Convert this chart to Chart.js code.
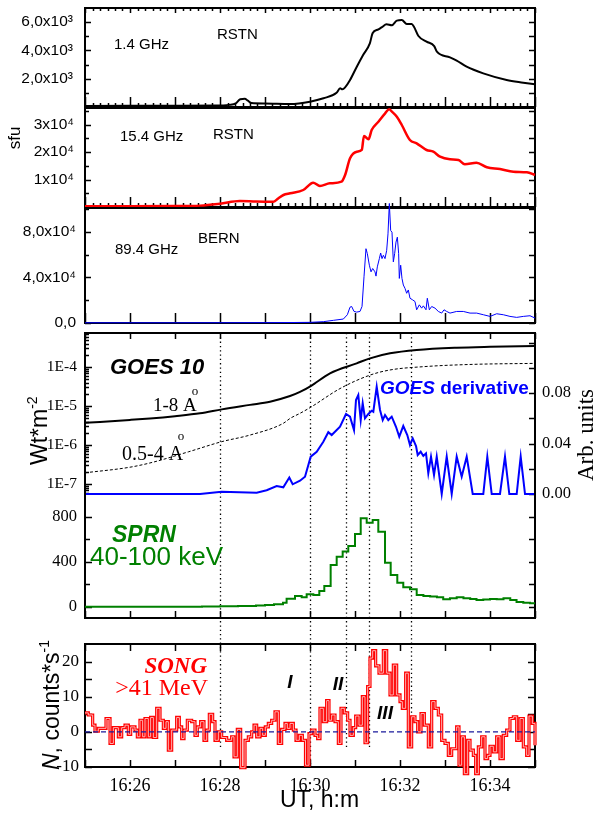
<!DOCTYPE html>
<html><head><meta charset="utf-8">
<script src="https://cdn.jsdelivr.net/npm/chart.js@4.4.1/dist/chart.umd.min.js"></script>
<style>
html,body{margin:0;padding:0;background:#fff;}
#wrap{position:relative;width:597px;height:816px;overflow:hidden;background:#fff;}
#wrap canvas{position:absolute;left:0;top:0;}
</style></head><body>
<div id="wrap">
<canvas id="cGoes" width="597" height="816"></canvas>
<canvas id="cP1" width="597" height="816"></canvas>
<canvas id="cP2" width="597" height="816"></canvas>
<canvas id="cP3" width="597" height="816"></canvas>
<canvas id="cSprn" width="597" height="816"></canvas>
<canvas id="cSong" width="597" height="816"></canvas>
</div>
<script>
// ===== DATA (time in minutes after 16:00 UT) =====
const p1Time = [25.0, 26.0, 27.0, 27.9, 28.2, 28.35, 28.45, 28.55, 28.62, 28.7, 29.0, 29.56, 30.0, 30.3, 30.59, 30.67, 30.72, 30.78, 30.89, 31.04, 31.18, 31.33, 31.39, 31.52, 31.6, 31.7, 31.82, 31.93, 32.04, 32.15, 32.26, 32.31, 32.41, 32.59, 32.76, 32.82, 33.11, 33.26, 33.48, 33.85, 34.37, 34.74, 35.0];
const p1Flux = [70, 80, 90, 100, 150, 250, 550, 580, 450, 280, 250, 212, 375, 615, 1010, 1320, 1250, 1390, 1910, 2850, 3680, 4500, 5210, 5490, 5650, 5850, 5780, 6110, 6150, 5870, 5870, 5680, 5020, 4620, 4310, 3910, 3510, 3280, 2850, 2380, 1910, 1720, 1600];

const p2Time = [25.0, 26.0, 27.0, 27.56, 28.0, 28.44, 28.8, 29.19, 29.3, 29.41, 29.56, 29.85, 30.07, 30.22, 30.44, 30.70, 30.78, 30.89, 31.04, 31.15, 31.20, 31.30, 31.37, 31.52, 31.67, 31.76, 31.82, 31.93, 32.04, 32.22, 32.37, 32.59, 32.74, 32.89, 33.11, 33.30, 33.44, 33.70, 33.93, 34.22, 34.52, 34.82, 35.0];
const p2Flux = [300, 300, 350, 500, 1200, 2180, 2000, 1930, 3200, 4360, 4980, 6180, 8840, 7640, 8620, 9200, 11640, 17710, 20110, 20730, 25820, 24620, 28000, 31020, 34070, 35530, 34650, 32840, 29820, 24360, 23160, 20730, 20110, 18290, 17350, 17090, 15530, 16110, 14440, 13820, 12840, 12620, 11640];

const p3Time = [25.0, 27.0, 29.0, 29.556, 30.0, 30.296, 30.519, 30.741, 30.83, 30.889, 30.926, 30.978, 31.037, 31.111, 31.156, 31.2, 31.244, 31.274, 31.319, 31.356, 31.393, 31.444, 31.467, 31.496, 31.541, 31.57, 31.6, 31.63, 31.667, 31.704, 31.733, 31.763, 31.793, 31.822, 31.852, 31.881, 31.911, 31.941, 31.97, 31.985, 32.015, 32.044, 32.074, 32.111, 32.148, 32.185, 32.222, 32.281, 32.333, 32.37, 32.43, 32.481, 32.519, 32.578, 32.607, 32.652, 32.704, 32.778, 32.852, 32.926, 32.978, 33.037, 33.111, 33.259, 33.407, 33.556, 33.704, 33.852, 34.0, 34.148, 34.296, 34.444, 34.593, 34.741, 34.889, 35.0];
const p3Flux = [200, 200, 300, 400, 580, 1160, 2320, 3480, 7250, 13900, 14500, 10150, 9570, 10150, 14500, 40600, 65250, 60900, 50750, 44950, 47850, 44950, 41180, 49300, 56550, 61480, 56550, 59450, 56550, 63800, 78300, 104980, 81200, 79750, 53650, 60900, 71050, 75400, 60900, 39150, 50750, 39150, 33350, 30450, 26100, 29000, 21750, 20300, 18850, 11600, 15950, 13050, 15080, 11600, 21750, 11600, 14500, 13050, 10150, 8700, 11600, 10150, 8700, 10150, 10150, 8700, 8700, 7250, 5800, 8120, 7250, 5800, 4930, 5800, 6380, 4350];

const goesLongTime = [25.0, 26.0, 26.444, 27.0, 27.556, 28.04, 28.667, 29.111, 29.556, 29.778, 30.016, 30.444, 31.037, 31.333, 31.778, 32.371, 33.26, 34.0, 35.0];
const goesLongFlux = [3.7e-6, 4.4e-6, 4.8e-6, 5.5e-6, 6.5e-6, 8.2e-6, 1.07e-5, 1.29e-5, 1.8e-5, 2.3e-5, 3.25e-5, 6.9e-5, 1.24e-4, 1.67e-4, 2.24e-4, 2.73e-4, 3.13e-4, 3.3e-4, 3.45e-4];

const goesShortTime = [25.0, 26.0, 26.5, 27.3, 28.04, 28.667, 29.407, 29.556, 29.778, 30.016, 30.667, 31.333, 31.778, 32.518, 33.63, 35.0];
const goesShortFlux = [1.94e-7, 2.7e-7, 3.6e-7, 6.7e-7, 1.22e-6, 1.8e-6, 3.6e-6, 4.8e-6, 6.5e-6, 9.3e-6, 2.8e-5, 6.2e-5, 8.4e-5, 1.02e-4, 1.17e-4, 1.24e-4];

const derivTime = [25.0, 27.556, 28.037, 28.815, 29.037, 29.259, 29.407, 29.54, 29.615, 29.778, 29.889, 30.016, 30.149, 30.296, 30.407, 30.482, 30.667, 30.8, 30.889, 30.978, 31.022, 31.073, 31.127, 31.171, 31.222, 31.296, 31.371, 31.407, 31.482, 31.556, 31.616, 31.667, 31.74, 31.816, 31.911, 31.984, 32.073, 32.162, 32.222, 32.282, 32.356, 32.393, 32.46, 32.518, 32.578, 32.629, 32.689, 32.756, 32.816, 32.927, 33.038, 33.149, 33.26, 33.371, 33.482, 33.616, 33.851, 33.94, 34.038, 34.222, 34.333, 34.429, 34.593, 34.682, 34.778, 35.0];
const derivValue = [0, 0, 0.0018, 0.001, 0.003, 0.0063, 0.0053, 0.013, 0.0077, 0.0105, 0.0137, 0.0296, 0.0335, 0.0414, 0.049, 0.0467, 0.0533, 0.0634, 0.0613, 0.0507, 0.0745, 0.0784, 0.0586, 0.0719, 0.06, 0.0634, 0.066, 0.0652, 0.085, 0.0666, 0.0586, 0.0626, 0.0586, 0.0613, 0.0533, 0.0454, 0.0539, 0.0467, 0.0388, 0.0441, 0.038, 0.0309, 0.0335, 0.0301, 0.0322, 0.0164, 0.0296, 0.015, 0.0296, 0, 0.0296, 0, 0.0296, 0.0137, 0.0296, 0, 0, 0.0296, 0, 0, 0.0296, 0, 0, 0.0296, 0, 0];

const sprnTime = [25.0, 26.0, 27.0, 27.6, 28.0, 28.4, 28.8, 29.0, 29.2, 29.4, 29.48, 29.667, 29.815, 29.926, 30.074, 30.207, 30.318, 30.459, 30.593, 30.726, 30.851, 31.0, 31.127, 31.26, 31.393, 31.518, 31.667, 31.793, 31.94, 32.073, 32.222, 32.371, 32.52, 32.67, 32.82, 32.96, 33.11, 33.26, 33.41, 33.56, 33.70, 33.85, 34.0, 34.15, 34.30, 34.45, 34.59, 34.74, 34.89, 35.0];
const sprnCounts = [2, 2, 3, 4, 6, 8, 12, 18, 25, 38, 72, 98, 86, 112, 107, 142, 187, 373, 447, 492, 542, 649, 788, 749, 773, 669, 394, 284, 216, 175, 157, 107, 98, 92, 86, 68, 77, 86, 77, 71, 62, 66, 71, 68, 77, 62, 45, 38, 33, 27];

const songTime = [25.000, 25.074, 25.170, 25.222, 25.296, 25.467, 25.556, 25.630, 25.741, 25.815, 25.889, 25.963, 26.015, 26.111, 26.163, 26.222, 26.281, 26.333, 26.407, 26.459, 26.519, 26.593, 26.667, 26.741, 26.800, 26.852, 26.926, 27.037, 27.096, 27.148, 27.200, 27.274, 27.370, 27.444, 27.496, 27.570, 27.644, 27.704, 27.763, 27.837, 27.889, 27.963, 28.037, 28.148, 28.259, 28.311, 28.385, 28.459, 28.556, 28.630, 28.704, 28.756, 28.815, 28.889, 28.948, 29.007, 29.074, 29.148, 29.222, 29.296, 29.370, 29.444, 29.496, 29.556, 29.630, 29.689, 29.763, 29.830, 29.900, 29.978, 30.037, 30.111, 30.170, 30.222, 30.296, 30.370, 30.422, 30.481, 30.556, 30.630, 30.689, 30.763, 30.837, 30.889, 30.963, 31.015, 31.089, 31.163, 31.222, 31.281, 31.333, 31.393, 31.459, 31.533, 31.630, 31.704, 31.778, 31.852, 31.926, 32.000, 32.052, 32.126, 32.185, 32.259, 32.333, 32.393, 32.467, 32.541, 32.630, 32.704, 32.778, 32.852, 32.926, 33.000, 33.074, 33.148, 33.259, 33.311, 33.370, 33.430, 33.504, 33.556, 33.630, 33.681, 33.741, 33.815, 33.889, 33.948, 34.000, 34.074, 34.148, 34.222, 34.296, 34.370, 34.444, 34.519, 34.593, 34.667, 34.741, 34.815, 34.867, 34.941, 35.000];
const songCounts = [5.4, 4.8, 1.9, 0.2, 1.0, 3.8, -3.3, 1.2, -1.4, 1.2, 1.9, -0.7, 1.4, 0.5, -1.4, 3.3, -1.4, 3.8, -1.4, 4.1, -1.6, 6.7, 3.3, 1.0, 2.9, -5.2, 0.5, 4.1, 1.4, -1.9, 0.5, 3.3, 2.9, -1.0, 1.4, 2.9, -2.4, 0.5, 5.0, 2.9, -2.4, 0, -1.6, -2.4, -1.4, -7.1, 0.7, -10.2, -2.4, -1.4, 0, 1.9, -1.4, 1.0, -1.0, 1.4, 2.4, 3.3, 5.7, -3.3, 0.7, 2.4, 1.0, 2.4, 0.5, -2.4, -1.0, -2.4, -9.5, -0.5, 0.5, -1.0, -1.9, 6.7, 2.9, 8.9, 3.3, 4.8, 2.9, -3.3, 6.7, 5.4, 3.3, -1.0, 1.2, 4.5, 1.9, 10.0, -3.1, 12.9, 21.0, 23.1, 18.8, 16.7, 23.1, 16.7, 10.5, 19.0, 10.5, 8.6, 6.7, 16.7, -4.3, 4.3, 2.9, 0, 5.2, 1.9, -4.3, 8.6, 6.7, 4.8, -2.4, -3.3, -6.7, -4.8, 1.4, -9.5, -1.4, -11.9, -2.4, -5.2, -6.7, -11.9, -4.3, -1.4, -7.6, -6.7, -4.1, -5.7, -1.4, -7.6, -1.0, 0.5, 3.8, 4.3, -2.4, 3.8, -4.3, -6.7, 4.5, 2.4, -3.8];

// vertical dotted marker lines (time) and their lower end (SONG counts)
const markerTimes = [28.0, 30.0, 30.8, 31.32, 32.24];
const markerEnds = [-4.3, -10, -4.3, -4.8, 0.5];

// ===== TICKS =====
const xTickMinutes = [26, 28, 30, 32, 34];
const xTickLabels = ['16:26', '16:28', '16:30', '16:32', '16:34'];
const p1TickValues = [2000, 4000, 6000];
const p1TickLabels = ['2,0x10\u00B3', '4,0x10\u00B3', '6,0x10\u00B3'];
const p1MinorValues = [1000, 3000, 5000];
const p2TickValues = [10000, 20000, 30000];
const p2TickLabels = ['1x10\u2074', '2x10\u2074', '3x10\u2074'];
const p2MinorValues = [5000, 15000, 25000, 35000];
const p3TickValues = [0, 40000, 80000];
const p3TickLabels = ['0,0', '4,0x10\u2074', '8,0x10\u2074'];
const p3MinorValues = [20000, 60000, 100000];
const goesTickValues = [1e-7, 1e-6, 1e-5, 1e-4];
const goesTickLabels = ['1E-7', '1E-6', '1E-5', '1E-4'];
const derivTickValues = [0, 0.04, 0.08];
const derivTickLabels = ['0.00', '0.04', '0.08'];
const derivMinorValues = [0.02, 0.06, 0.10, 0.12];
const sprnTickValues = [0, 400, 800];
const sprnTickLabels = ['0', '400', '800'];
const sprnMinorValues = [200, 600];
const songTickValues = [-10, 0, 10, 20];
const songTickLabels = ['-10', '0', '10', '20'];
const songMinorValues = [-5, 5, 15];

// ===== LAYOUT / STYLE =====
const SANS = "'Liberation Sans', Arial, Helvetica, sans-serif";
const SERIF = "'Liberation Serif', 'Times New Roman', Times, serif";
const PAGE_H = 816, AXIS_L = 85, AXIS_R = 62;
const T_MIN = 25, T_MAX = 35;
const BOX = { p1: [8, 107], p2: [108, 207], p3: [208, 323], goes: [333, 494], sprn: [494, 618], song: [644, 767] };
const RED = '#ff0000', BLUE = '#0000ff', GREEN = 'rgb(0,128,0)';

const pts = (xs, ys) => xs.map((x, i) => ({ x, y: ys[i] }));

function hiddenX() {
  return { type: 'linear', min: T_MIN, max: T_MAX, bounds: 'data', display: false };
}
function yAxis(pos, type, min, max, values, labels, font, pad) {
  return {
    type, position: pos, min, max, bounds: 'data',
    grid: { display: false, drawTicks: false, tickLength: 0 },
    border: { display: false },
    afterFit: s => { s.width = pos === 'left' ? AXIS_L : AXIS_R; s.paddingTop = 0; s.paddingBottom = 0; },
    afterBuildTicks: s => { s.ticks = values.map(v => ({ value: v })); },
    ticks: { autoSkip: false, padding: pad, font, color: '#000', callback: (v, i) => labels[i] }
  };
}

function framePlugin(spec) {
  return {
    id: 'frame',
    beforeDatasetsDraw(chart) {
      const { ctx, chartArea: a, scales } = chart;
      ctx.save();
      ctx.strokeStyle = '#000';
      ctx.lineWidth = 2;
      ctx.lineCap = 'square';
      ctx.beginPath();
      const s = spec.sides;
      if (s.includes('left')) { ctx.moveTo(a.left, a.top); ctx.lineTo(a.left, a.bottom); }
      if (s.includes('right')) { ctx.moveTo(a.right, a.top); ctx.lineTo(a.right, a.bottom); }
      if (s.includes('top')) { ctx.moveTo(a.left, a.top); ctx.lineTo(a.right, a.top); }
      if (s.includes('bottom')) { ctx.moveTo(a.left, a.bottom); ctx.lineTo(a.right, a.bottom); }
      ctx.stroke();
      ctx.lineWidth = 1.5;
      ctx.lineCap = 'butt';
      ctx.beginPath();
      const xs = scales.x;
      (spec.xTicks || []).forEach(t => {
        const n = Math.round((xs.max - xs.min) / t.step);
        for (let i = 0; i <= n; i++) {
          const px = Math.round(xs.getPixelForValue(xs.min + i * t.step)) + 0.5;
          const y0 = t.edge === 'top' ? a.top : a.bottom;
          const d = t.edge === 'top' ? t.len : -t.len;
          ctx.moveTo(px, y0); ctx.lineTo(px, y0 + d);
        }
      });
      (spec.yTicks || []).forEach(t => {
        const sc = scales[t.scale];
        t.values.forEach(v => {
          const py = Math.round(sc.getPixelForValue(v)) + 0.5;
          const x0 = t.side === 'left' ? a.left : a.right;
          const d = t.side === 'left' ? t.len : -t.len;
          ctx.moveTo(x0, py); ctx.lineTo(x0 + d, py);
        });
      });
      ctx.stroke();
      ctx.restore();
    }
  };
}

function drawRich(ctx, it) {
  ctx.save();
  ctx.translate(it.x, it.y);
  if (it.rotate) ctx.rotate(it.rotate);
  ctx.fillStyle = it.color || '#000';
  ctx.textBaseline = 'alphabetic';
  ctx.textAlign = 'left';
  let total = 0;
  const widths = it.parts.map(p => { ctx.font = p.font; const w = ctx.measureText(p.t).width; total += w; return w; });
  let cx = it.align === 'center' ? -total / 2 : it.align === 'right' ? -total : 0;
  it.parts.forEach((p, i) => { ctx.font = p.font; ctx.fillText(p.t, cx, -(p.rise || 0)); cx += widths[i]; });
  ctx.restore();
}
function textPlugin(items) {
  return { id: 'texts', afterDraw(chart) { items.forEach(it => drawRich(chart.ctx, it)); } };
}

function makePanel(id, box, datasets, scales, plugins, xAxisH) {
  const hasRight = !!scales.y2;
  return new Chart(document.getElementById(id), {
    type: 'line',
    data: { datasets },
    options: {
      responsive: false, animation: false, events: [], devicePixelRatio: 1,
      layout: { autoPadding: false, padding: { left: 0, top: box[0], right: hasRight ? 0 : AXIS_R, bottom: PAGE_H - box[1] - (xAxisH || 0) } },
      plugins: { legend: { display: false }, tooltip: { enabled: false } },
      elements: { point: { radius: 0 } },
      scales
    },
    plugins
  });
}

const radioFont = { family: SANS, size: 15.5 };
const minorX = [{ edge: 'top', step: 1 / 6, len: 3 }, { edge: 'top', step: 1, len: 5 }, { edge: 'bottom', step: 1 / 6, len: 4 }, { edge: 'bottom', step: 1, len: 10 }];

// ---- Panel 1: 1.4 GHz
makePanel('cP1', BOX.p1,
  [{ data: pts(p1Time, p1Flux), borderColor: '#000', borderWidth: 2, cubicInterpolationMode: 'monotone', pointRadius: 0 }],
  { x: hiddenX(), y: yAxis('left', 'linear', 0, 7000, p1TickValues, p1TickLabels, radioFont, 12) },
  [framePlugin({ sides: ['left', 'right', 'top', 'bottom'], xTicks: minorX,
    yTicks: [{ scale: 'y', side: 'left', values: p1TickValues, len: 6 }, { scale: 'y', side: 'left', values: p1MinorValues, len: 4 },
             { scale: 'y', side: 'right', values: p1TickValues, len: 6 }, { scale: 'y', side: 'right', values: p1MinorValues, len: 6 }] }),
   textPlugin([
     { x: 114, y: 48.5, parts: [{ t: '1.4 GHz', font: `15px ${SANS}` }] },
     { x: 217, y: 38.5, parts: [{ t: 'RSTN', font: `15px ${SANS}` }] }
   ])]);

// ---- Panel 2: 15.4 GHz
makePanel('cP2', BOX.p2,
  [{ data: pts(p2Time, p2Flux), borderColor: RED, borderWidth: 2.5, cubicInterpolationMode: 'monotone', pointRadius: 0, clip: false }],
  { x: hiddenX(), y: yAxis('left', 'linear', 0, 36000, p2TickValues, p2TickLabels, radioFont, 11) },
  [framePlugin({ sides: ['left', 'right', 'top', 'bottom'], xTicks: [{ edge: 'bottom', step: 1 / 6, len: 4 }, { edge: 'bottom', step: 1, len: 10 }],
    yTicks: [{ scale: 'y', side: 'left', values: p2TickValues, len: 6 }, { scale: 'y', side: 'left', values: p2MinorValues, len: 4 },
             { scale: 'y', side: 'right', values: p2TickValues, len: 6 }, { scale: 'y', side: 'right', values: p2MinorValues, len: 6 }] }),
   textPlugin([
     { x: 120, y: 140.5, parts: [{ t: '15.4 GHz', font: `15px ${SANS}` }] },
     { x: 213, y: 138.5, parts: [{ t: 'RSTN', font: `15px ${SANS}` }] },
     { x: 20, y: 138, rotate: -Math.PI / 2, align: 'center', parts: [{ t: 'sfu', font: `17px ${SANS}` }] }
   ])]);

// ---- Panel 3: 89.4 GHz
makePanel('cP3', BOX.p3,
  [{ data: pts(p3Time, p3Flux), borderColor: BLUE, borderWidth: 1, pointRadius: 0, clip: false }],
  { x: hiddenX(), y: yAxis('left', 'linear', 0, 101000, p3TickValues, p3TickLabels, radioFont, 9) },
  [framePlugin({ sides: ['left', 'right', 'top', 'bottom'], xTicks: [{ edge: 'bottom', step: 1, len: 10 }],
    yTicks: [{ scale: 'y', side: 'left', values: p3TickValues, len: 6 }, { scale: 'y', side: 'left', values: p3MinorValues, len: 4 },
             { scale: 'y', side: 'right', values: p3TickValues, len: 6 }, { scale: 'y', side: 'right', values: p3MinorValues, len: 6 }] }),
   textPlugin([
     { x: 115, y: 253.5, parts: [{ t: '89.4 GHz', font: `15px ${SANS}` }] },
     { x: 198, y: 242.5, parts: [{ t: 'BERN', font: `15px ${SANS}` }] }
   ])]);

// ---- SPRN
makePanel('cSprn', BOX.sprn,
  [{ data: pts(sprnTime, sprnCounts), borderColor: GREEN, borderWidth: 2, stepped: true, pointRadius: 0 }],
  { x: hiddenX(), y: yAxis('left', 'linear', -98, 1004, sprnTickValues, sprnTickLabels, { family: SERIF, size: 16.5 }, 8) },
  [framePlugin({ sides: ['left', 'right', 'bottom'], xTicks: [{ edge: 'bottom', step: 1, len: 7 }],
    yTicks: [{ scale: 'y', side: 'left', values: sprnTickValues, len: 7 }, { scale: 'y', side: 'left', values: sprnMinorValues, len: 5 },
             { scale: 'y', side: 'right', values: sprnTickValues, len: 6 }, { scale: 'y', side: 'right', values: sprnMinorValues, len: 6 }] }),
   textPlugin([
     { x: 112, y: 541.5, color: GREEN, parts: [{ t: 'SPRN', font: `italic bold 23px ${SANS}` }] },
     { x: 90, y: 565, color: GREEN, parts: [{ t: '40-100 keV', font: `26px ${SANS}` }] }
   ])]);

// ---- SONG
const songX = {
  type: 'linear', min: T_MIN, max: T_MAX, bounds: 'data', position: 'bottom',
  grid: { display: false, drawTicks: false, tickLength: 0 }, border: { display: false },
  afterFit: s => { s.height = 40; s.paddingLeft = 0; s.paddingRight = 0; },
  afterBuildTicks: s => { s.ticks = xTickMinutes.map(v => ({ value: v })); },
  ticks: { autoSkip: false, maxRotation: 0, minRotation: 0, padding: 8, font: { family: SERIF, size: 18 }, color: '#000', callback: (v, i) => xTickLabels[i] }
};
const songChart = makePanel('cSong', BOX.song,
  [
    { data: [{ x: T_MIN, y: 0 }, { x: T_MAX, y: 0 }], borderColor: '#1a1a9c', borderWidth: 1.3, borderDash: [5, 3], pointRadius: 0 },
    { data: pts(songTime, songCounts), borderColor: '#ffb3b3', borderWidth: 1, stepped: true, pointRadius: 0, clip: false },
    { data: pts(songTime, songCounts), borderColor: RED, borderWidth: 3.2, stepped: true, pointRadius: 0, clip: false }
  ],
  { x: songX, y: yAxis('left', 'linear', -10, 25, songTickValues, songTickLabels, { family: SERIF, size: 17 }, 6) },
  [framePlugin({ sides: ['left', 'right', 'top', 'bottom'], xTicks: [{ edge: 'top', step: 1, len: 7 }, { edge: 'bottom', step: 1, len: 7 }],
    yTicks: [{ scale: 'y', side: 'left', values: songTickValues, len: 7 }, { scale: 'y', side: 'left', values: songMinorValues, len: 7 },
             { scale: 'y', side: 'right', values: songTickValues, len: 7 }, { scale: 'y', side: 'right', values: songMinorValues, len: 7 }] }),
   textPlugin([
     { x: 207, y: 673, align: 'right', color: RED, parts: [{ t: 'SONG', font: `italic bold 23px ${SERIF}` }] },
     { x: 208, y: 695, align: 'right', color: RED, parts: [{ t: '>41 MeV', font: `24px ${SERIF}` }] },
     { x: 290, y: 688, align: 'center', parts: [{ t: 'I', font: `italic bold 19px ${SANS}` }] },
     { x: 338, y: 690, align: 'center', parts: [{ t: 'II', font: `italic bold 19px ${SANS}` }] },
     { x: 385, y: 719, align: 'center', parts: [{ t: 'III', font: `italic bold 19px ${SANS}` }] },
     { x: 59, y: 770, rotate: -Math.PI / 2, parts: [{ t: 'N', font: `italic 23px ${SANS}` }, { t: ', counts*s', font: `23px ${SANS}` }, { t: '-1', font: `14px ${SANS}`, rise: 10 }] },
     { x: 319.5, y: 807, align: 'center', parts: [{ t: 'UT, h:m', font: `23px ${SANS}` }] }
   ])], 40);

// ---- GOES (drawn last, canvas lowest; dotted markers use SONG scales)
const goesMinor = [];
for (let e = -8; e <= -4; e++) for (let k = 2; k <= 9; k++) { const v = k * Math.pow(10, e); if (v > 5.6e-8 && v < 7.4e-4) goesMinor.push(v); }
const markerPlugin = {
  id: 'markers',
  beforeDatasetsDraw(chart) {
    const ctx = chart.ctx, xs = songChart.scales.x, ys = songChart.scales.y;
    const top = chart.chartArea.top;
    ctx.save();
    ctx.strokeStyle = '#000'; ctx.lineWidth = 1.3; ctx.setLineDash([1.3, 3]);
    markerTimes.forEach((t, i) => {
      const px = Math.round(xs.getPixelForValue(t)) + 0.5;
      ctx.beginPath(); ctx.moveTo(px, top); ctx.lineTo(px, ys.getPixelForValue(markerEnds[i])); ctx.stroke();
    });
    ctx.restore();
  }
};
makePanel('cGoes', BOX.goes,
  [
    { data: pts(goesLongTime, goesLongFlux), yAxisID: 'y', borderColor: '#000', borderWidth: 2, cubicInterpolationMode: 'monotone', pointRadius: 0 },
    { data: pts(goesShortTime, goesShortFlux), yAxisID: 'y', borderColor: '#000', borderWidth: 1, borderDash: [3, 2], cubicInterpolationMode: 'monotone', pointRadius: 0 },
    { data: pts(derivTime, derivValue), yAxisID: 'y2', borderColor: BLUE, borderWidth: 2, pointRadius: 0, clip: false }
  ],
  { x: hiddenX(),
    y: yAxis('left', 'logarithmic', 5.55e-8, 7.45e-4, goesTickValues, goesTickLabels, { family: SERIF, size: 15.5 }, 8),
    y2: yAxis('right', 'linear', 0, 0.1276, derivTickValues, derivTickLabels, { family: SERIF, size: 16.5 }, 7) },
  [markerPlugin,
   framePlugin({ sides: ['left', 'right', 'top'], xTicks: [{ edge: 'top', step: 1, len: 6 }],
    yTicks: [{ scale: 'y', side: 'left', values: goesTickValues, len: 7 }, { scale: 'y', side: 'left', values: goesMinor, len: 4 },
             { scale: 'y2', side: 'right', values: derivTickValues, len: 6 }, { scale: 'y2', side: 'right', values: derivMinorValues, len: 6 }] }),
   textPlugin([
     { x: 110, y: 374, parts: [{ t: 'GOES 10', font: `italic bold 22px ${SANS}` }] },
     { x: 153, y: 411, parts: [{ t: '1-8 A', font: `19px ${SERIF}` }] },
     { x: 195, y: 394.5, align: 'center', parts: [{ t: 'o', font: `13px ${SERIF}` }] },
     { x: 122, y: 460, parts: [{ t: '0.5-4 A', font: `20px ${SERIF}` }] },
     { x: 181, y: 440, align: 'center', parts: [{ t: 'o', font: `13px ${SERIF}` }] },
     { x: 380, y: 393.5, color: BLUE, parts: [{ t: 'GOES ', font: `italic bold 19px ${SANS}` }, { t: 'derivative', font: `bold 19px ${SANS}` }] },
     { x: 47, y: 465, rotate: -Math.PI / 2, parts: [{ t: 'Wt*m', font: `23px ${SANS}` }, { t: '-2', font: `14px ${SANS}`, rise: 10 }] },
     { x: 593, y: 435, rotate: -Math.PI / 2, align: 'center', parts: [{ t: 'Arb. units', font: `23px ${SERIF}` }] }
   ])]);
</script>
</body></html>
